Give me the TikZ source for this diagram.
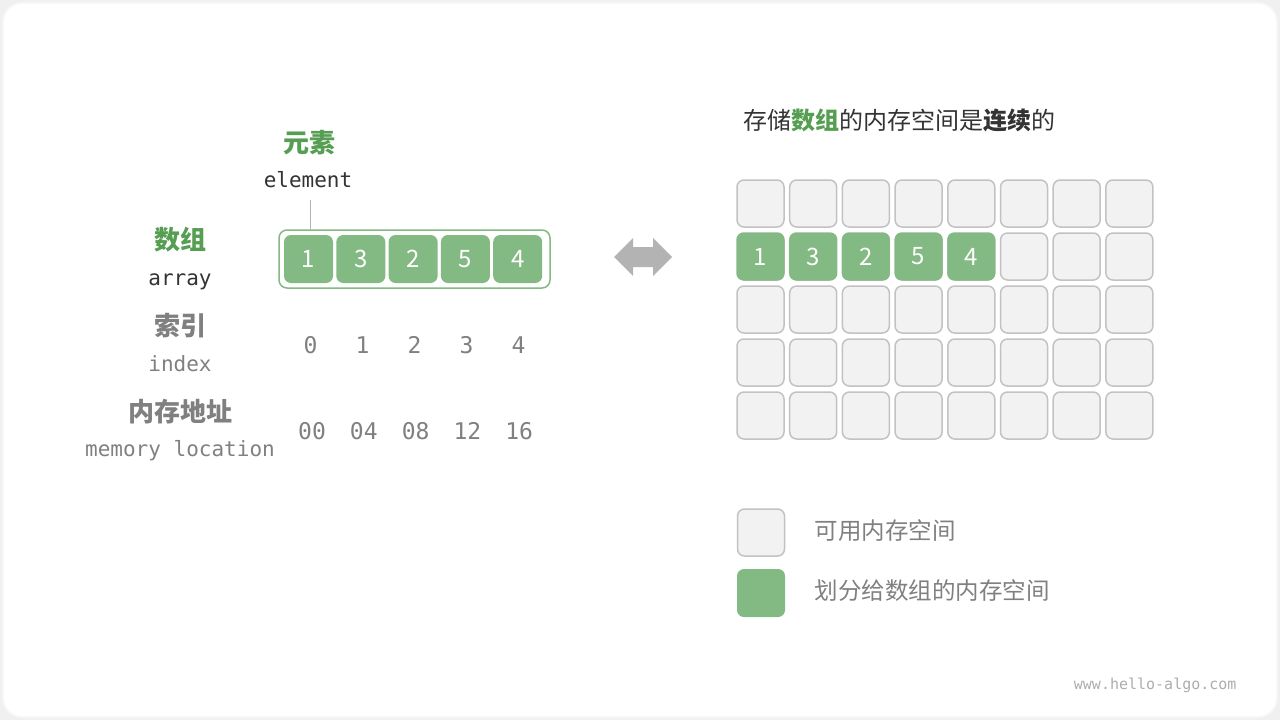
\documentclass[tikz,border=0pt]{standalone}
\usepackage{fontspec}
\setmainfont{Noto Sans CJK SC}
\setmonofont{DejaVu Sans Mono}
\definecolor{gfill}{HTML}{83B982}
\definecolor{gtext}{HTML}{559E52}
\definecolor{gborder}{HTML}{83B982}
\definecolor{cfill}{HTML}{F2F2F2}
\definecolor{cdraw}{HTML}{C2C2C2}
\definecolor{greytxt}{HTML}{808080}
\definecolor{darktxt}{HTML}{333333}
\definecolor{arrowc}{HTML}{B3B3B3}
\begin{document}
\begin{tikzpicture}[x=1pt,y=-1pt,
  greencell/.style={rectangle,rounded corners=7pt,fill=gfill,minimum width=#1,minimum height=#1,inner sep=0pt,text=white,font=\fontsize{24}{24}\selectfont},
  greycell/.style={rectangle,rounded corners=7pt,fill=cfill,draw=cdraw,line width=1.5pt,minimum width=#1,minimum height=#1,inner sep=0pt},
  cjkgreen/.style={text=gtext,font=\fontsize{26}{26}\selectfont\bfseries},
  cjkgrey/.style={text=greytxt,font=\fontsize{26}{26}\selectfont\bfseries},
  monolabel/.style={font=\ttfamily\fontsize{21}{21}\selectfont},
  idx/.style={text=greytxt,font=\ttfamily\fontsize{23}{23}\selectfont},
  legtext/.style={text=greytxt,font=\fontsize{23.5}{23.5}\selectfont,anchor=west},
]
% background
\fill[black!6] (0,0) rectangle (1280,720);
\fill[black!3,rounded corners=20pt] (2,2) rectangle (1278,718);
\fill[white,rounded corners=18pt] (4,4) rectangle (1276,716);
\useasboundingbox (0,0) rectangle (1280,720);

% left labels
\node[cjkgreen] (yuansu) at (309,143) {元素};
\node[monolabel,text=darktxt] (element) at (308,180) {element};
\node[cjkgreen] (shuzu) at (180,240) {数组};
\node[monolabel,text=darktxt] (arraylbl) at (180,282) {array};
\node[cjkgrey] (suoyin) at (180,326) {索引};
\node[monolabel,text=greytxt] (indexlbl) at (180,364) {index};
\node[cjkgrey] (neicun) at (180,412) {内存地址};
\node[monolabel,text=greytxt] (memlbl) at (180,451) {memory location};

% array box
\node[draw=gborder,line width=1.5pt,rounded corners=8pt,minimum width=271pt,minimum height=58pt,inner sep=0pt] (arr) at (414.5,259) {};
\foreach \v [count=\i] in {1,3,2,5,4}{
  \node[greencell=48pt,minimum width=49pt] (a\i) at ({308.5+52.3*(\i-1)},259) {\v};
}
\coordinate (etop) at (310,200);
\draw[arrowc,line width=1pt] (etop) -- (etop |- arr.north);

% index & address
\foreach \v [count=\i] in {0,1,2,3,4}{
  \node[idx] (i\i) at ({310.5+52*(\i-1)},345) {\v};
}
\foreach \v [count=\i] in {00,04,08,12,16}{
  \node[idx] (m\i) at ({312+51.8*(\i-1)},431) {\v};
}

% double arrow
\fill[arrowc] (614,257) -- (633,238) -- (633,247) -- (653,247) -- (653,238) -- (672,257) -- (653,276) -- (653,267) -- (633,267) -- (633,276) -- cycle;

% title
\node[text=darktxt,font=\fontsize{24}{24}\selectfont] (title) at (899,120) {存储{\color{gtext}\bfseries 数组}的内存空间是{\bfseries 连续}的};

% grid
\foreach \r in {1,...,5}{
  \foreach \c in {1,...,8}{
    \node[greycell=47pt] (g\r\c) at ({760.5+52.7*(\c-1)},{203.5+53*(\r-1)}) {};
  }
}
\foreach \v [count=\c] in {1,3,2,5,4}{
  \node[greencell=48pt] (h\c) at ({760.5+52.7*(\c-1)},256.5) {\v};
}

% legend
\node[greycell=47pt] (leg1) at (761,532.5) {};
\node[greencell=48pt] (leg2) at (761,593) {};
\node[legtext] (leg1t) at (811,531) {可用内存空间};
\node[legtext] (leg2t) at (811,591) {划分给数组的内存空间};

% footer
\node[text=black!32,font=\ttfamily\fontsize{15}{15}\selectfont,anchor=east] (footer) at (1240,685) {www.hello-algo.com};
\end{tikzpicture}
\end{document}
